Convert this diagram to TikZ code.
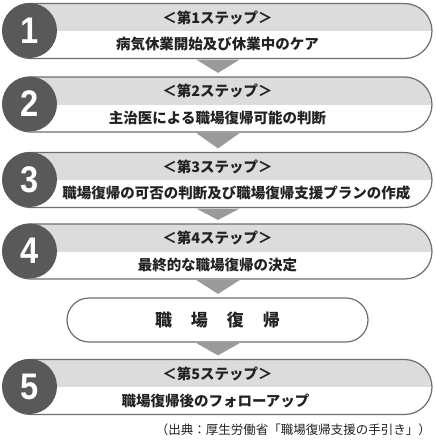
\documentclass[tikz,border=0pt]{standalone}
\usepackage{fontspec}
\newfontfamily\jp{Noto Sans CJK JP}
\newfontfamily\numfont{Liberation Sans}[FakeStretch=0.88]
\usetikzlibrary{shapes.misc,calc}
\definecolor{circ}{HTML}{595959}
\definecolor{topfill}{HTML}{DCDCDC}
\definecolor{edge}{HTML}{6E6E6E}
\definecolor{arrowgray}{HTML}{9A9A9A}
\definecolor{txt}{HTML}{222222}
\begin{document}
\begin{tikzpicture}[x=1pt,y=-1pt,
  pillbox/.style={rounded rectangle, rounded rectangle arc length=180, draw=edge, line width=1.2pt, fill=white,
    minimum width=429pt, minimum height=55pt, inner sep=0pt,
    path picture={\fill[topfill] (path picture bounding box.north west) rectangle (path picture bounding box.east);}},
  returnbox/.style={rounded rectangle, rounded rectangle arc length=180, draw=edge, line width=1.2pt, fill=white,
    minimum width=301pt, minimum height=44pt, inner sep=0pt},
  numcircle/.style={circle, fill=circ, minimum size=55pt, inner sep=0pt, text=white,
    font=\numfont\bfseries\fontsize{37}{37}\selectfont},
  lab/.style={inner sep=0pt, text=txt, font=\jp\bfseries\fontsize{14.5}{14.5}\selectfont},
  bigtext/.style={inner sep=0pt, text=txt, font=\jp\bfseries\fontsize{17}{17}\selectfont},
  captiontext/.style={inner sep=0pt, text=txt, font=\jp\fontsize{12.5}{12.5}\selectfont},
  downarrow/.style={fill=arrowgray}
]
\useasboundingbox (0,0) rectangle (436,440);

% pills
\node[pillbox] (p1) at (217.5,31) {};
\node[pillbox] (p2) at (217.5,104.5) {};
\node[pillbox] (p3) at (217.5,180) {};
\node[pillbox] (p4) at (217.5,251.5) {};
\node[returnbox] (r) at (217.5,320) {};
\node[pillbox] (p5) at (217.5,387) {};

% arrows
\foreach \a/\b in {p1/p2,p2/p3,p3/p4,p4/r,r/p5}{
  \fill[downarrow] ($(\a.south)+(-21,0.6)$) -- ($(\a.south)+(22,0.6)$) -- ($(\b.north)+(0.5,-3.5)$) -- cycle;
}

% circles
\node[numcircle] (c1) at (29.5,30.5) {1};
\node[numcircle] (c2) at (29.5,104) {2};
\node[numcircle] (c3) at (29.5,179.5) {3};
\node[numcircle] (c4) at (29.5,251) {4};
\node[numcircle] (c5) at (29.5,386.5) {5};

% labels
\node[lab] (t1a) at ($(p1.center)+(0,-13.5)$) {＜第1ステップ＞};
\node[lab] (t1b) at ($(p1.center)+(0,13.5)$) {病気休業開始及び休業中のケア};
\node[lab] (t2a) at ($(p2.center)+(0,-13.5)$) {＜第2ステップ＞};
\node[lab] (t2b) at ($(p2.center)+(0,13.5)$) {主治医による職場復帰可能の判断};
\node[lab] (t3a) at ($(p3.center)+(0,-13.5)$) {＜第3ステップ＞};
\node[lab] (t3b) at ($(p3.center)+(19,12.5)$) {職場復帰の可否の判断及び職場復帰支援プランの作成};
\node[lab] (t4a) at ($(p4.center)+(0,-13.5)$) {＜第4ステップ＞};
\node[lab] (t4b) at ($(p4.center)+(0,13.5)$) {最終的な職場復帰の決定};
\node[bigtext] (rt) at (r.center) {職\hspace{19pt}場\hspace{19pt}復\hspace{19pt}帰};
\node[lab] (t5a) at ($(p5.center)+(0,-13.5)$) {＜第5ステップ＞};
\node[lab] (t5b) at ($(p5.center)+(-2,13.5)$) {職場復帰後のフォローアップ};

% caption
\node[captiontext, anchor=east] (cap) at (431,430) {（出典：厚生労働省「職場復帰支援の手引き」）};
\end{tikzpicture}
\end{document}
